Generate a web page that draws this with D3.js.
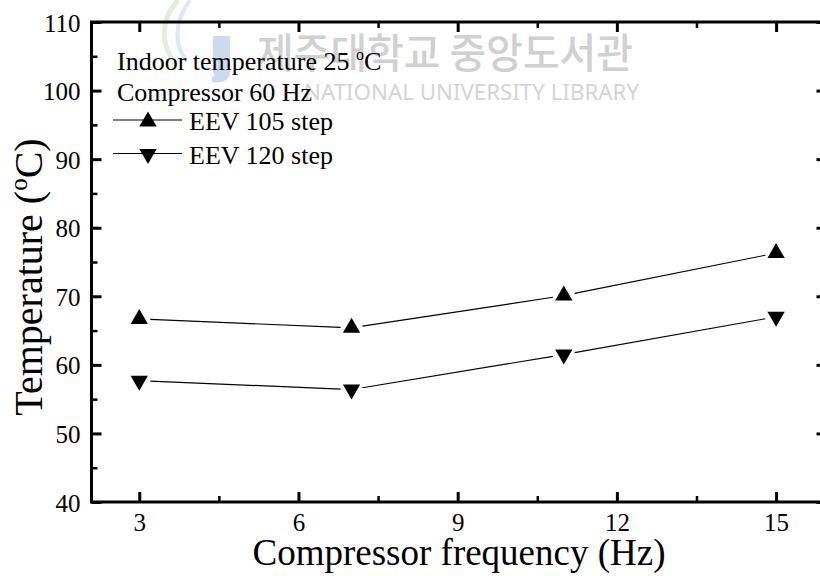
<!DOCTYPE html>
<html>
<head>
<meta charset="utf-8">
<script src="https://cdn.jsdelivr.net/npm/d3@7"></script>
<style>
  body { margin: 0; background: #fff; }
</style>
</head>
<body>
<div class="chart"></div>
<script>
let width = 820
let height = 576
let serif = '"Liberation Serif", "Times New Roman", Times, serif'

// data
let freq = [3, 7, 11, 15]
let eev105 = [66.7, 65.4, 70.1, 76.3]
let eev120 = [57.7, 56.4, 61.5, 67.0]
let seriesNames = ['EEV 105 step', 'EEV 120 step']
let xTicks = [3, 6, 9, 12, 15]
let xMinor = [4.5, 7.5, 10.5, 13.5]
let yTicks = [40, 50, 60, 70, 80, 90, 100, 110]
let yMinor = [45, 55, 65, 75, 85, 95, 105]

let x = d3.scaleLinear().domain([2.1, 15.95]).range([91.5, 826.5])
let y = d3.scaleLinear().domain([40, 110]).range([502, 22])

let svg = d3.select('div.chart')
    .append('svg')
    .attr('width', width)
    .attr('height', height)
    .attr('font-family', serif)

svg.append('rect')
    .attr('width', width)
    .attr('height', height)
    .style('fill', 'white')

// library watermark (faint, behind everything)
let wm = svg.append('g').attr('class', 'watermark')
wm.append('path')
    .attr('d', 'M178,0 C160,20 160,46 176,64')
    .style('fill', 'none')
    .style('stroke', '#e2eed8')
    .style('stroke-width', 5)
wm.append('path')
    .attr('d', 'M190,0 C174,22 174,44 186,60')
    .style('fill', 'none')
    .style('stroke', '#d8e9f4')
    .style('stroke-width', 4)
wm.append('path')
    .attr('d', 'M213,36 L230,36 L230,72 C230,80 222,84 212,82 L212,76 C216,76 213,74 213,70 Z')
    .style('fill', '#cdd9ec')
wm.append('text')
    .attr('x', 257)
    .attr('y', 68)
    .attr('textLength', 376)
    .attr('lengthAdjust', 'spacingAndGlyphs')
    .style('font-family', '"Noto Sans CJK KR", sans-serif')
    .style('font-weight', 500)
    .style('font-size', '41px')
    .style('fill', '#d0d0d0')
    .text('제주대학교 중앙도서관')
wm.append('text')
    .attr('x', 304)
    .attr('y', 100)
    .attr('textLength', 335)
    .attr('lengthAdjust', 'spacingAndGlyphs')
    .style('font-family', '"Noto Sans", sans-serif')
    .style('font-size', '21px')
    .style('fill', '#d4d4d4')
    .text('NATIONAL UNIVERSITY LIBRARY')

// axes, ticks pointing inward
function styleAxis(g, w) {
    g.attr('font-family', serif)
    g.select('.domain').remove()
    g.selectAll('.tick line').style('stroke', 'black').style('stroke-width', w)
    g.selectAll('.tick text')
        .style('font-family', serif)
        .style('font-size', '25px')
        .style('fill', 'black')
}

svg.append('g')
    .attr('transform', 'translate(0,502)')
    .call(d3.axisBottom(x).tickValues(xTicks).tickSizeInner(-10).tickSizeOuter(0).tickPadding(11))
    .call(g => styleAxis(g, 3))
svg.append('g')
    .attr('transform', 'translate(0,502)')
    .call(d3.axisBottom(x).tickValues(xMinor).tickFormat('').tickSizeInner(-6).tickSizeOuter(0))
    .call(g => styleAxis(g, 2.5))
svg.append('g')
    .attr('transform', 'translate(0,22)')
    .call(d3.axisTop(x).tickValues(xTicks).tickFormat('').tickSizeInner(-10).tickSizeOuter(0))
    .call(g => styleAxis(g, 3))
svg.append('g')
    .attr('transform', 'translate(0,22)')
    .call(d3.axisTop(x).tickValues(xMinor).tickFormat('').tickSizeInner(-6).tickSizeOuter(0))
    .call(g => styleAxis(g, 2.5))

svg.append('g')
    .attr('transform', 'translate(91.5,0)')
    .call(d3.axisLeft(y).tickValues(yTicks).tickSizeInner(-10).tickSizeOuter(0).tickPadding(11))
    .call(g => styleAxis(g, 3))
    .call(g => g.selectAll('.tick text').attr('dy', '0.36em'))
svg.append('g')
    .attr('transform', 'translate(91.5,0)')
    .call(d3.axisLeft(y).tickValues(yMinor).tickFormat('').tickSizeInner(-6).tickSizeOuter(0))
    .call(g => styleAxis(g, 2.5))
svg.append('g')
    .attr('transform', 'translate(826.5,0)')
    .call(d3.axisRight(y).tickValues(yTicks).tickFormat('').tickSizeInner(-10).tickSizeOuter(0))
    .call(g => styleAxis(g, 3))
svg.append('g')
    .attr('transform', 'translate(826.5,0)')
    .call(d3.axisRight(y).tickValues(yMinor).tickFormat('').tickSizeInner(-6).tickSizeOuter(0))
    .call(g => styleAxis(g, 2.5))

// frame
svg.append('rect')
    .attr('x', x.range()[0])
    .attr('y', y.range()[1])
    .attr('width', x.range()[1] - x.range()[0])
    .attr('height', y.range()[0] - y.range()[1])
    .style('fill', 'none')
    .style('stroke', 'black')
    .style('stroke-width', 3)

// series: lines with a gap round each marker, like the original plot
let triangle = d3.symbol().type(d3.symbolTriangle).size(130)
let series = [
    { name: seriesNames[0], values: eev105, rot: 0 },
    { name: seriesNames[1], values: eev120, rot: 180 }
]
let gap = 11

series.forEach(function(s) {
    let pts = freq.map((f, i) => [x(f), y(s.values[i])])
    let segs = d3.pairs(pts).map(function(p) {
        let dx = p[1][0] - p[0][0]
        let dy = p[1][1] - p[0][1]
        let len = Math.sqrt(dx * dx + dy * dy)
        let ux = dx / len, uy = dy / len
        return [p[0][0] + ux * gap, p[0][1] + uy * gap, p[1][0] - ux * gap, p[1][1] - uy * gap]
    })
    svg.append('g')
        .selectAll('line')
        .data(segs)
        .enter()
        .append('line')
        .attr('x1', d => d[0])
        .attr('y1', d => d[1])
        .attr('x2', d => d[2])
        .attr('y2', d => d[3])
        .style('stroke', 'black')
        .style('stroke-width', 1.2)
    svg.append('g')
        .selectAll('path')
        .data(pts)
        .enter()
        .append('path')
        .attr('d', triangle)
        .attr('transform', d => 'translate(' + d[0] + ',' + d[1] + ') rotate(' + s.rot + ')')
        .style('fill', 'black')
})

// legend / notes
let note = svg.append('g').style('font-family', serif).style('font-size', '26px')
let t1 = note.append('text').attr('x', 117).attr('y', 70)
t1.append('tspan').text('Indoor temperature 25 ')
t1.append('tspan').attr('dy', '-10px').style('font-size', '16px').text('o')
t1.append('tspan').attr('dy', '10px').text('C')
note.append('text').attr('x', 117).attr('y', 101).text('Compressor 60 Hz')

let legendY = [120, 153.5]
series.forEach(function(s, i) {
    let g = svg.append('g').attr('transform', 'translate(0,' + legendY[i] + ')')
    g.append('line')
        .attr('x1', 113).attr('x2', 182)
        .style('stroke', 'black').style('stroke-width', 1.2)
    g.append('path')
        .attr('d', triangle)
        .attr('transform', 'translate(148,' + (s.rot ? 0.5 : 1.5) + ') rotate(' + s.rot + ')')
        .style('fill', 'black')
    g.append('text')
        .attr('x', 189)
        .attr('y', 10)
        .style('font-family', serif)
        .style('font-size', '26px')
        .text(s.name)
})

// axis titles
svg.append('text')
    .attr('x', (x.range()[0] + x.range()[1]) / 2)
    .attr('y', 565)
    .attr('text-anchor', 'middle')
    .style('font-family', serif)
    .style('font-size', '37px')
    .text('Compressor frequency (Hz)')

let yt = svg.append('text')
    .attr('transform', 'translate(42,277) rotate(-90)')
    .attr('text-anchor', 'middle')
    .style('font-family', serif)
    .style('font-size', '40px')
yt.append('tspan').text('Temperature (')
yt.append('tspan').attr('dy', '-15px').style('font-size', '25px').text('o')
yt.append('tspan').attr('dy', '15px').text('C)')
</script>
</body>
</html>
